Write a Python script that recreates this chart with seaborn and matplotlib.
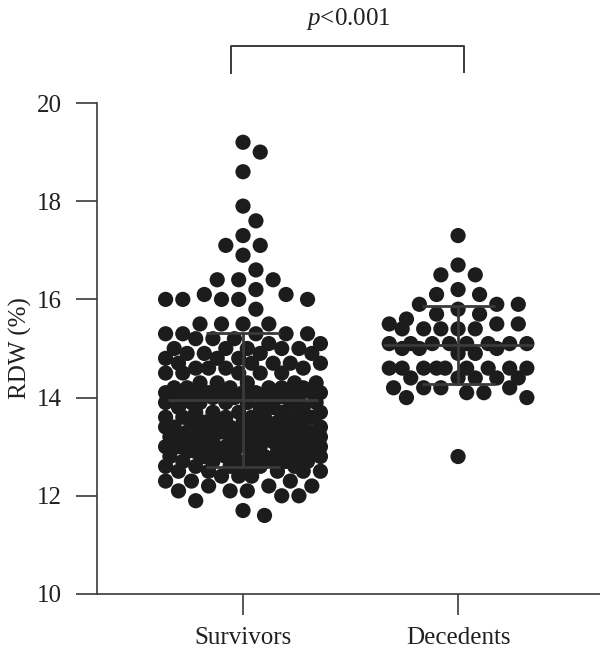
import numpy as np
import matplotlib
matplotlib.use('Agg')
import matplotlib.pyplot as plt
import seaborn as sns

# RDW values (value levels and how many dots sit at each)
groups = ['Survivors', 'Decedents']

surv_levels = [19.2, 19.0, 18.6, 17.9, 17.6, 17.3, 17.1, 16.9, 16.6, 16.4, 16.2, 16.1, 16.0,
               15.8, 15.5, 15.3, 15.2, 15.1, 15.0, 14.9, 14.8, 14.7, 14.6, 14.5, 14.3, 14.2,
               14.1, 14.0, 13.9, 13.8, 13.7, 13.6, 13.5, 13.4, 13.3, 13.2, 13.1, 13.0, 12.9,
               12.8, 12.7, 12.6, 12.5, 12.4, 12.3, 12.2, 12.1, 12.0, 11.9, 11.7, 11.6]
surv_counts = [1, 1, 1, 1, 1, 1, 2, 1, 1, 3, 1, 2, 5,
               1, 4, 5, 3, 2, 5, 4, 3, 5, 4, 5, 5, 6,
               9, 8, 6, 5, 5, 7, 6, 8, 9, 8, 8, 8, 7,
               7, 6, 6, 5, 3, 3, 3, 3, 2, 1, 1, 1]

dec_levels = [17.3, 16.7, 16.5, 16.2, 16.1, 15.9, 15.8, 15.7, 15.6, 15.5, 15.4,
              15.1, 15.0, 14.9, 14.6, 14.4, 14.2, 14.1, 14.0, 12.8]
dec_counts = [1, 1, 2, 1, 2, 3, 1, 2, 1, 3, 5,
              8, 3, 2, 9, 5, 4, 2, 2, 1]

p_text = '$p$<0.001'

survivors = np.repeat(surv_levels, surv_counts)
decedents = np.repeat(dec_levels, dec_counts)


def spread(vals, half=0.35, sx=215.0, sy=49.1, gap=18.0, step=0.02):
    """Greedy scatter-dot layout: keep dots about `gap` px apart, inside +-half."""
    vals = np.asarray(vals, dtype=float)
    steps = np.arange(step, half + 1e-9, step)
    cand = np.concatenate([[0.0], np.column_stack([steps, -steps]).ravel()])
    px, py = [], []
    off = np.zeros(len(vals))
    for i in np.argsort(-vals, kind='stable'):
        y = vals[i]
        best, bestd = 0.0, -1.0
        if px:
            ax_ = np.array(px)
            ay_ = np.array(py)
            near = np.abs(ay_ - y) * sy < gap
            for c in cand:
                if near.any():
                    d = np.min(np.hypot((ax_[near] - c) * sx, (ay_[near] - y) * sy))
                else:
                    d = np.inf
                if d >= gap:
                    best = c
                    break
                if d > bestd:
                    bestd, best = d, c
        off[i] = best
        px.append(best)
        py.append(y)
    return off


plt.rcParams['font.family'] = ['Liberation Serif', 'DejaVu Serif']
plt.rcParams['mathtext.fontset'] = 'custom'
plt.rcParams['mathtext.rm'] = 'Liberation Serif'
plt.rcParams['mathtext.it'] = 'Liberation Serif:italic'

ink = '#231f20'
line_c = '#3a3a3a'

fig = plt.figure(figsize=(6, 6.59), dpi=100)
ax = fig.add_axes([97 / 600, 65 / 659, 503 / 600, 491 / 659])

for i, (vals, half) in enumerate([(survivors, 0.36), (decedents, 0.33)]):
    xs = i + spread(vals, half=half)
    sns.scatterplot(x=xs, y=vals, s=120, color='#1c1c1c', edgecolor='none',
                    linewidth=0, ax=ax, zorder=2, legend=False)
    m, sd = vals.mean(), vals.std(ddof=1)
    ax.hlines(m, i - 0.35, i + 0.35, color=line_c, lw=2, zorder=3)
    ax.hlines([m - sd, m + sd], i - 0.17, i + 0.17, color=line_c, lw=2, zorder=3)
    ax.vlines(i, m - sd, m + sd, color=line_c, lw=2, zorder=3)

ax.set_xlim(-0.679, 1.66)
ax.set_ylim(10, 20)
ax.set_yticks([10, 12, 14, 16, 18, 20])
ax.set_xticks([0, 1])
ax.set_xticklabels(groups)
ax.set_ylabel('RDW (%)', fontsize=18, color=ink, labelpad=4)
ax.tick_params(axis='both', labelsize=18, colors=line_c, labelcolor=ink,
               length=15, width=1.2, direction='out')
ax.tick_params(axis='y', pad=10)
ax.tick_params(axis='x', pad=9)
for side in ['top', 'right']:
    ax.spines[side].set_visible(False)
for side in ['left', 'bottom']:
    ax.spines[side].set_color(line_c)
    ax.spines[side].set_linewidth(1.2)

# significance bracket
ax.plot([-0.055, -0.055, 1.028, 1.028], [20.61, 21.16, 21.16, 20.63],
        color=line_c, lw=1.4, clip_on=False)
ax.text(0.49, 21.72, p_text, ha='center', va='center', fontsize=18,
        color=ink, clip_on=False)

fig.savefig('out.png', dpi=100)
